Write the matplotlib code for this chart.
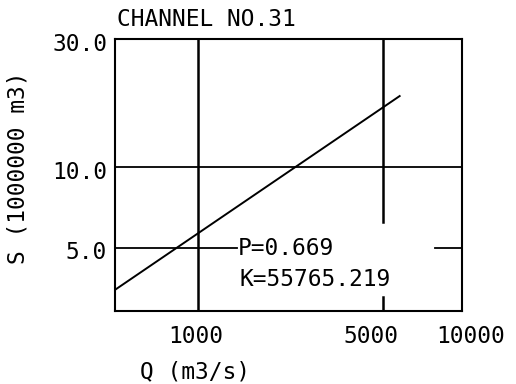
import numpy as np
import matplotlib
matplotlib.use("Agg")
import matplotlib.pyplot as plt

# data (log-log, S = K * Q^P)
Q_line = [483, 5800]          # m3/s, ends of fitted line
S_line = [3.48, 18.4]         # 1000000 m3
xticks = [1000, 5000, 10000]
xtick_labels = ["1000", "5000", "10000"]
yticks = [5.0, 10.0, 30.0]
ytick_labels = ["5.0", "10.0", "30.0"]
P_value = "0.669"
K_value = "55765.219"

plt.rcParams['font.family'] = ['DejaVu Sans Mono']
fs = 16.5

fig = plt.figure(figsize=(5.16, 3.84), dpi=100)
ax = fig.add_axes([0.2229, 0.190, 0.6725, 0.708])
ax.set_xscale('log')
ax.set_yscale('log')
ax.set_xlim(483, 10000)
ax.set_ylim(2.9, 30)
ax.set_xticks([])
ax.set_yticks([])
ax.minorticks_off()
for s in ax.spines.values():
    s.set_linewidth(1.5)

# grid lines, broken where the text sits
ax.axvline(1000, color='k', lw=1.8)
ax.axvline(5000, ymin=0.327, ymax=1, color='k', lw=1.8)
ax.axvline(5000, ymin=0, ymax=0.051, color='k', lw=1.8)
ax.axhline(10, color='k', lw=1.3)
ax.axhline(5, xmin=0, xmax=0.352, color='k', lw=1.3)
ax.axhline(5, xmin=0.922, xmax=1, color='k', lw=1.3)

ax.plot(Q_line, S_line, color='k', lw=1.4)

# tick labels (plotter puts them a bit off the ticks)
x_off = [-3, -12, 9]
for v, lab, dx in zip(xticks, xtick_labels, x_off):
    ax.annotate(lab, xy=(v, 0), xycoords=('data', 'axes fraction'),
                xytext=(dx, -25), textcoords='offset pixels',
                ha='center', va='center', fontsize=fs, annotation_clip=False)
for v, lab in zip(yticks, ytick_labels):
    ax.annotate(lab, xy=(0, v), xycoords=('axes fraction', 'data'),
                xytext=(-8, -5), textcoords='offset pixels',
                ha='right', va='center', fontsize=fs, annotation_clip=False)

ax.text(0.355, 0.231, "P=" + P_value, transform=ax.transAxes,
        ha='left', va='center', fontsize=fs)
ax.text(0.36, 0.115, "K=" + K_value, transform=ax.transAxes,
        ha='left', va='center', fontsize=fs)

fig.text(117 / 516, 1 - 20 / 384, "CHANNEL NO.31", ha='left', va='center', fontsize=fs)
fig.text(18 / 516, 1 - 168 / 384, "S (1000000 m3)", rotation=90,
         ha='center', va='center', fontsize=fs)
fig.text(195 / 516, 1 - 372 / 384, "Q (m3/s)", ha='center', va='center', fontsize=fs)

fig.savefig("out.png", dpi=100)
